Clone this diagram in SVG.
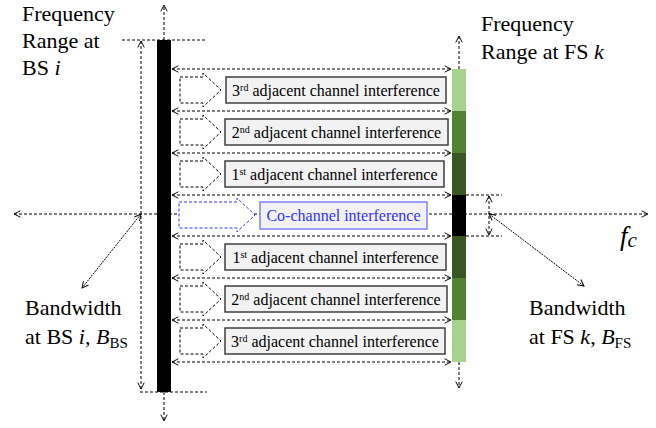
<svg xmlns="http://www.w3.org/2000/svg" width="656" height="428" viewBox="0 0 656 428" font-family="'Liberation Serif', 'Times New Roman', serif">
<style>
.d{fill:none;stroke:#000;stroke-width:1;stroke-dasharray:3,2}
.lbl{font-size:22px;fill:#000}
.bt{font-size:16px;fill:#000;text-anchor:middle}
.box{fill:#f2f2f2;stroke:#3f3f3f;stroke-width:1.5}
.ba{fill:#fff;stroke:#000;stroke-width:1;stroke-dasharray:3,2}
</style>
<defs>
<marker id="ah" viewBox="0 0 10 10" refX="9" refY="5" markerWidth="8" markerHeight="8" markerUnits="userSpaceOnUse" orient="auto-start-reverse">
<path d="M1,1 L9,5 L1,9" fill="none" stroke="#000" stroke-width="1.2"/>
</marker>
</defs>
<g id="connectors">
<line class="d" x1="14" y1="214" x2="648" y2="214" marker-start="url(#ah)" marker-end="url(#ah)"/>
<line class="d" x1="122" y1="40" x2="207" y2="40"/>
<line class="d" x1="140" y1="392" x2="207" y2="392"/>
<line class="d" x1="164" y1="40" x2="164" y2="5" marker-end="url(#ah)"/>
<line class="d" x1="164" y1="392" x2="164" y2="421" marker-end="url(#ah)"/>
<line class="d" x1="141" y1="41" x2="141" y2="389" marker-start="url(#ah)" marker-end="url(#ah)"/>
<line class="d" x1="459" y1="69" x2="459" y2="36" marker-end="url(#ah)"/>
<line class="d" x1="459" y1="362" x2="459" y2="388" marker-end="url(#ah)"/>
<line class="d" x1="172" y1="69" x2="451" y2="69" marker-start="url(#ah)" marker-end="url(#ah)"/>
<line class="d" x1="172" y1="111" x2="451" y2="111" marker-start="url(#ah)" marker-end="url(#ah)"/>
<line class="d" x1="172" y1="153" x2="451" y2="153" marker-start="url(#ah)" marker-end="url(#ah)"/>
<line class="d" x1="172" y1="195" x2="451" y2="195" marker-start="url(#ah)" marker-end="url(#ah)"/>
<line class="d" x1="172" y1="236" x2="451" y2="236" marker-start="url(#ah)" marker-end="url(#ah)"/>
<line class="d" x1="172" y1="278" x2="451" y2="278" marker-start="url(#ah)" marker-end="url(#ah)"/>
<line class="d" x1="172" y1="320" x2="451" y2="320" marker-start="url(#ah)" marker-end="url(#ah)"/>
<line class="d" x1="172" y1="362" x2="451" y2="362" marker-start="url(#ah)" marker-end="url(#ah)"/>
<line class="d" x1="466" y1="195" x2="502" y2="195"/>
<line class="d" x1="466" y1="236" x2="502" y2="236"/>
<line class="d" x1="489" y1="196" x2="489" y2="235" marker-start="url(#ah)" marker-end="url(#ah)"/>
<line class="d" style="stroke-dasharray:2,1" x1="141" y1="214" x2="82" y2="288" marker-start="url(#ah)" marker-end="url(#ah)"/>
<line class="d" style="stroke-dasharray:2,1" x1="489" y1="214" x2="584" y2="286" marker-start="url(#ah)" marker-end="url(#ah)"/>
</g>
<g id="bs-bar"><rect x="157" y="40" width="14" height="352" fill="#000"/></g>
<g id="fs-bar">
<rect x="452" y="69" width="14" height="42" fill="#a9d18e"/>
<rect x="452" y="111" width="14" height="42" fill="#548235"/>
<rect x="452" y="153" width="14" height="42" fill="#385723"/>
<rect x="452" y="195" width="14" height="41" fill="#000"/>
<rect x="452" y="236" width="14" height="42" fill="#385723"/>
<rect x="452" y="278" width="14" height="42" fill="#548235"/>
<rect x="452" y="320" width="14" height="42" fill="#a9d18e"/>
</g>
<g id="arrow-adj3-up"><path class="ba" d="M180,77 H203 V73 L221,90 L203,107 V103 H180 Z"/></g>
<g id="arrow-adj2-up"><path class="ba" d="M180,119 H203 V115 L221,132 L203,149 V145 H180 Z"/></g>
<g id="arrow-adj1-up"><path class="ba" d="M180,161 H203 V157 L221,174 L203,191 V187 H180 Z"/></g>
<g id="arrow-co"><path class="ba" style="stroke:#3333ff" d="M179,202 H237 V198 L255,215 L237,232 V228 H179 Z"/></g>
<g id="arrow-adj1-down"><path class="ba" d="M180,244 H203 V240 L221,257 L203,274 V270 H180 Z"/></g>
<g id="arrow-adj2-down"><path class="ba" d="M180,286 H203 V282 L221,299 L203,316 V312 H180 Z"/></g>
<g id="arrow-adj3-down"><path class="ba" d="M180,328 H203 V324 L221,341 L203,358 V354 H180 Z"/></g>
<g id="box-adj3-up"><rect class="box" x="226" y="77" width="220" height="26"/><text class="bt" font-family="Liberation Serif" x="336" y="95.5">3<tspan font-size="10" baseline-shift="super">rd</tspan> adjacent channel interference</text></g>
<g id="box-adj2-up"><rect class="box" x="225" y="119" width="223" height="26"/><text class="bt" font-family="Liberation Serif" x="336.5" y="137.5">2<tspan font-size="10" baseline-shift="super">nd</tspan> adjacent channel interference</text></g>
<g id="box-adj1-up"><rect class="box" x="225" y="161" width="219" height="26"/><text class="bt" font-family="Liberation Serif" x="334.5" y="179.5">1<tspan font-size="10" baseline-shift="super">st</tspan> adjacent channel interference</text></g>
<g id="box-co"><rect x="260" y="202" width="167" height="27" fill="#f2f2f2" stroke="#7f7fff" stroke-width="1.5"/><text class="bt" font-family="Liberation Serif" x="343.5" y="221" style="fill:#3333ff">Co-channel interference</text></g>
<g id="box-adj1-down"><rect class="box" x="225" y="244" width="221" height="26"/><text class="bt" font-family="Liberation Serif" x="335.5" y="262.5">1<tspan font-size="10" baseline-shift="super">st</tspan> adjacent channel interference</text></g>
<g id="box-adj2-down"><rect class="box" x="225" y="286" width="222" height="26"/><text class="bt" font-family="Liberation Serif" x="336" y="304.5">2<tspan font-size="10" baseline-shift="super">nd</tspan> adjacent channel interference</text></g>
<g id="box-adj3-down"><rect class="box" x="225" y="328" width="220" height="26"/><text class="bt" font-family="Liberation Serif" x="335" y="346.5">3<tspan font-size="10" baseline-shift="super">rd</tspan> adjacent channel interference</text></g>
<g id="label-bs-range">
<text class="lbl" font-family="Liberation Serif" x="22" y="21">Frequency</text>
<text class="lbl" font-family="Liberation Serif" x="22" y="48">Range at</text>
<text class="lbl" font-family="Liberation Serif" x="22" y="75">BS <tspan font-style="italic">i</tspan></text>
</g>
<g id="label-fs-range">
<text class="lbl" font-family="Liberation Serif" x="481" y="31">Frequency</text>
<text class="lbl" font-family="Liberation Serif" x="481" y="59">Range at FS <tspan font-style="italic">k</tspan></text>
</g>
<g id="label-bs-bw">
<text class="lbl" font-family="Liberation Serif" x="25" y="315">Bandwidth</text>
<text class="lbl" font-family="Liberation Serif" x="25" y="344">at BS <tspan font-style="italic">i</tspan>, <tspan font-style="italic">B</tspan><tspan font-size="15" dy="4">BS</tspan></text>
</g>
<g id="label-fs-bw">
<text class="lbl" font-family="Liberation Serif" x="529" y="315">Bandwidth</text>
<text class="lbl" font-family="Liberation Serif" x="529" y="344">at FS <tspan font-style="italic">k</tspan>, <tspan font-style="italic">B</tspan><tspan font-size="15" dy="4">FS</tspan></text>
</g>
<g id="label-fc">
<text class="lbl" font-family="Liberation Serif" x="620" y="245" style="font-size:27px;font-style:italic">f<tspan font-size="21" dy="2">c</tspan></text>
</g>
</svg>
